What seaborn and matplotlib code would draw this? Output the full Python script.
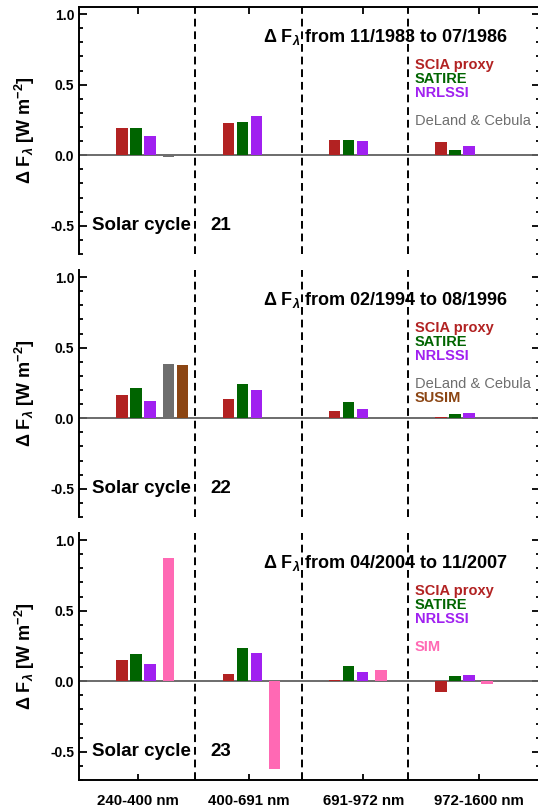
import matplotlib
matplotlib.use("Agg")
import matplotlib.pyplot as plt
from matplotlib.ticker import MultipleLocator
import numpy as np
import pandas as pd
import seaborn as sns

# Spectral bands (x tick labels)
bands = ["240-400 nm", "400-691 nm", "691-972 nm", "972-1600 nm"]

# Irradiance change per band, W m^-2
# Solar cycle 21: 11/1983 -> 07/1986
sc21_scia = [0.195, 0.226, 0.105, 0.090]
sc21_satire = [0.193, 0.238, 0.109, 0.036]
sc21_nrlssi = [0.136, 0.276, 0.100, 0.062]
sc21_deland = [-0.010, None, None, None]

# Solar cycle 22: 02/1994 -> 08/1996
sc22_scia = [0.164, 0.136, 0.052, 0.010]
sc22_satire = [0.213, 0.244, 0.118, 0.033]
sc22_nrlssi = [0.122, 0.197, 0.066, 0.035]
sc22_deland = [0.387, None, None, None]
sc22_susim = [0.380, None, None, None]

# Solar cycle 23: 04/2004 -> 11/2007
sc23_scia = [0.148, 0.052, 0.012, -0.077]
sc23_satire = [0.195, 0.235, 0.108, 0.035]
sc23_nrlssi = [0.124, 0.197, 0.066, 0.042]
sc23_sim = [0.871, -0.620, 0.082, -0.023]

cycles = ["21", "22", "23"]
periods = ["from 11/1983 to 07/1986",
           "from 02/1994 to 08/1996",
           "from 04/2004 to 11/2007"]

colors = {
    "SCIA proxy": "#B22222",
    "SATIRE": "#006400",
    "NRLSSI": "#A020F0",
    "DeLand & Cebula": "#6E6E6E",
    "SUSIM": "#8B4513",
    "SIM": "#FF69B4",
}

panels = [
    [("SCIA proxy", sc21_scia, 0), ("SATIRE", sc21_satire, 1),
     ("NRLSSI", sc21_nrlssi, 2), ("DeLand & Cebula", sc21_deland, 3)],
    [("SCIA proxy", sc22_scia, 0), ("SATIRE", sc22_satire, 1),
     ("NRLSSI", sc22_nrlssi, 2), ("DeLand & Cebula", sc22_deland, 3),
     ("SUSIM", sc22_susim, 4)],
    [("SCIA proxy", sc23_scia, 0), ("SATIRE", sc23_satire, 1),
     ("NRLSSI", sc23_nrlssi, 2), ("SIM", sc23_sim, 3)],
]

# Layout of the bar groups along x
slot_offset = [0.0, 0.132, 0.264, 0.435, 0.566]
legend_row = [0, 1, 2, 4, 5]
bar_width = 0.108
band_ticks = [0.15, 1.195, 2.27, 3.36]
separators = [0.689, 1.689, 2.689]

sns.set_style("ticks")
plt.rcParams["font.family"] = ["Liberation Sans", "DejaVu Sans"]
plt.rcParams["font.weight"] = "bold"
plt.rcParams["mathtext.fontset"] = "custom"
plt.rcParams["mathtext.rm"] = "Liberation Sans:bold"
plt.rcParams["mathtext.it"] = "Liberation Sans:italic:bold"
plt.rcParams["mathtext.bf"] = "Liberation Sans:bold"
plt.rcParams["axes.linewidth"] = 1.4
for key in ["text.color", "axes.labelcolor", "axes.edgecolor",
            "xtick.color", "ytick.color"]:
    plt.rcParams[key] = "black"

W, H = 538, 811
fig = plt.figure(figsize=(W / 100, H / 100), dpi=100)

left_px, right_px = 79, 540
tops = [7, 270, 533]
panel_h = 247

for i, (series, cyc, period) in enumerate(zip(panels, cycles, periods)):
    top = tops[i]
    ax = fig.add_axes([left_px / W, (H - top - panel_h) / H,
                       (right_px - left_px) / W, panel_h / H])

    ax.axhline(0, color="#606060", lw=1.3, zorder=1)
    for xs in separators:
        ax.axvline(xs, color="black", lw=1.4, ls=(0, (4, 2.5)), zorder=1)

    for name, vals, slot in series:
        df = pd.DataFrame({"band": np.arange(len(vals)), "dF": vals}).dropna()
        df["x"] = df["band"] + slot_offset[slot]
        sns.barplot(data=df, x="x", y="dF", native_scale=True,
                    width=bar_width, color=colors[name], saturation=1,
                    errorbar=None, linewidth=0, ax=ax, zorder=2)
        ax.text(0.728, 0.765 - legend_row[slot] * 0.0567, name,
                transform=ax.transAxes, ha="left", va="center",
                color=colors[name], fontsize=10.5,
                fontweight="normal" if name == "DeLand & Cebula" else "bold")

    ax.set_xlim(-0.406, 3.934)
    ax.set_ylim(-0.7, 1.05)
    ax.set_xlabel("")
    ax.set_ylabel("")

    ax.yaxis.set_minor_locator(MultipleLocator(0.1))
    ax.set_yticks([-0.5, 0.0, 0.5, 1.0])
    ax.set_yticklabels(["-0.5", "0.0", "0.5", "1.0"])
    ax.tick_params(axis="y", which="both", direction="in", left=True,
                   right=True, width=1.3, labelsize=10, pad=3.5)
    ax.tick_params(axis="y", which="major", length=6)
    ax.tick_params(axis="y", which="minor", length=3)

    ax.set_xticks(band_ticks)
    if i == 0:
        ax.spines["bottom"].set_visible(False)
        ax.tick_params(axis="x", direction="in", top=True, bottom=False,
                       labelbottom=False, length=5, width=1.3)
    elif i == 1:
        ax.spines["top"].set_visible(False)
        ax.spines["bottom"].set_visible(False)
        ax.tick_params(axis="x", top=False, bottom=False, labelbottom=False)
    else:
        ax.spines["top"].set_visible(False)
        ax.set_xticklabels(bands)
        ax.tick_params(axis="x", direction="in", top=False, bottom=True,
                       length=4, width=1.3, labelsize=10.8, pad=10)

    ax.text(0.40, 0.88, r"Δ F$_{λ}$ " + period, transform=ax.transAxes,
            ha="left", va="center", fontsize=13, fontweight="bold")
    ax.text(0.028, 0.115, "Solar cycle", transform=ax.transAxes,
            ha="left", va="center", fontsize=13.5, fontweight="bold")
    ax.text(0.285, 0.115, cyc, transform=ax.transAxes,
            ha="left", va="center", fontsize=13.5, fontweight="bold")
    ax.text(-0.117, 0.5, r"Δ F$_{λ}$ [W m$^{-2}$]", transform=ax.transAxes,
            rotation=90, ha="center", va="center", fontsize=13,
            fontweight="bold")

fig.savefig("out.png", dpi=100)
